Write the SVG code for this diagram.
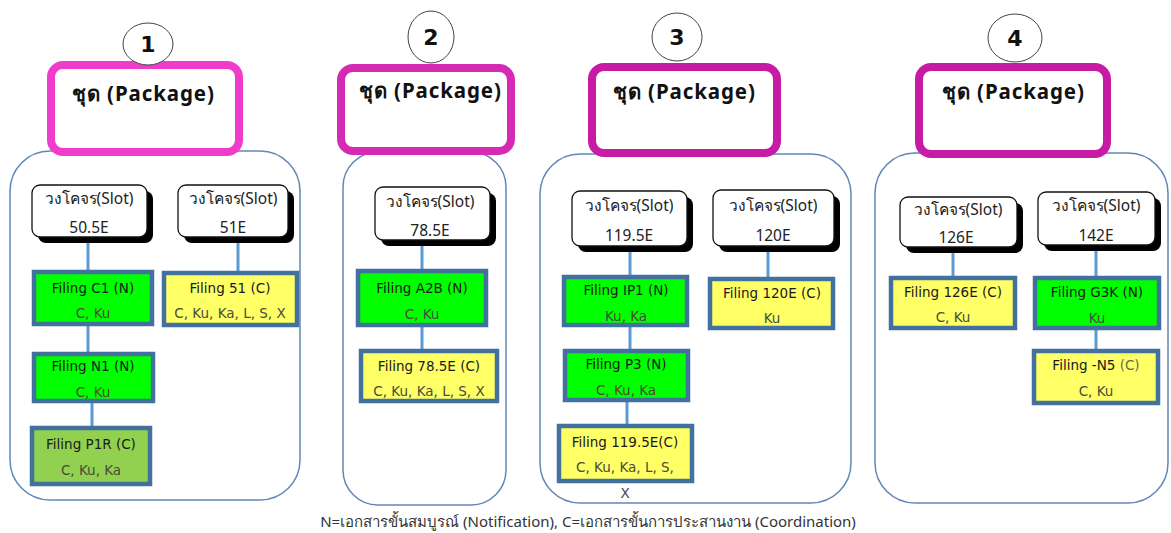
<svg xmlns="http://www.w3.org/2000/svg" width="1171" height="533" viewBox="0 0 1171 533">
<style>
.cont{fill:#fff;stroke:#5f88b8;stroke-width:1.5}
.pkg{fill:#fff;stroke-width:8}
.pkgt{font-family:"Noto Sans","DejaVu Sans",sans-serif;font-weight:bold;font-size:20.5px;letter-spacing:0.9px;fill:#111}
.num{fill:#fff;stroke:#444;stroke-width:1}
.numt{font-family:"DejaVu Sans","Liberation Sans",sans-serif;font-weight:bold;font-size:22px;fill:#111;text-anchor:middle}
.slot{fill:#fff;stroke:#111;stroke-width:1.3}
.shadow{fill:#000}
.slt{font-family:"Noto Sans","DejaVu Sans",sans-serif;font-size:15.5px;fill:#222;text-anchor:middle}
.fil{stroke:#41719c;stroke-width:4.5}
.g{fill:#00ff00}.lg{fill:#92d050}.y{fill:#ffff66}
.f1{font-family:"DejaVu Sans","Liberation Sans",sans-serif;font-size:13.5px;fill:#1a1a1a;text-anchor:middle}
.f2{font-family:"DejaVu Sans","Liberation Sans",sans-serif;font-size:13.5px;fill:#4a4a3a;text-anchor:middle}
.con{stroke:#5b9bd5;stroke-width:3;fill:none}
.leg{font-family:"Noto Sans","DejaVu Sans",sans-serif;font-size:15px;fill:#333;text-anchor:middle}
</style>

<g id="containers">
<rect class="cont" x="10" y="151" width="290" height="349" rx="40"/>
<rect class="cont" x="343" y="152" width="163" height="353" rx="35"/>
<rect class="cont" x="540" y="154" width="311" height="349" rx="40"/>
<rect class="cont" x="875" y="153" width="293" height="350" rx="40"/>
</g>

<g id="connectors">
<line class="con" x1="88" y1="237" x2="88" y2="270"/>
<line class="con" x1="88" y1="326" x2="88" y2="352"/>
<line class="con" x1="92" y1="403" x2="92" y2="426"/>
<line class="con" x1="238" y1="237" x2="238" y2="271"/>
<line class="con" x1="422" y1="240" x2="422" y2="269"/>
<line class="con" x1="422" y1="327" x2="422" y2="349"/>
<line class="con" x1="630" y1="246" x2="630" y2="275"/>
<line class="con" x1="630" y1="327" x2="630" y2="349"/>
<line class="con" x1="627" y1="402" x2="627" y2="424"/>
<line class="con" x1="768" y1="246" x2="768" y2="277"/>
<line class="con" x1="953" y1="247" x2="953" y2="276"/>
<line class="con" x1="1096" y1="245" x2="1096" y2="276"/>
<line class="con" x1="1096" y1="330" x2="1096" y2="349"/>
</g>

<g id="pkg1">
<rect class="pkg" x="51" y="65" width="188" height="87" rx="12" stroke="#ef3ccb"/>
<text class="pkgt" x="72" y="101">ชุด (Package)</text>
</g>
<g id="pkg2">
<rect class="pkg" x="341" y="68" width="170" height="83" rx="12" stroke="#d42ab4"/>
<text class="pkgt" x="359" y="98">ชุด (Package)</text>
</g>
<g id="pkg3">
<rect class="pkg" x="592" y="67" width="185" height="86" rx="12" stroke="#c71ba5"/>
<text class="pkgt" x="613" y="99">ชุด (Package)</text>
</g>
<g id="pkg4">
<rect class="pkg" x="919" y="67" width="188" height="87" rx="12" stroke="#c71ba5"/>
<text class="pkgt" x="942" y="99">ชุด (Package)</text>
</g>

<g id="num1"><ellipse class="num" cx="148" cy="44" rx="25" ry="21"/><text class="numt" x="148" y="52">1</text></g>
<g id="num2"><ellipse class="num" cx="431" cy="37" rx="23" ry="26"/><text class="numt" x="431" y="45">2</text></g>
<g id="num3"><ellipse class="num" cx="677" cy="37" rx="25" ry="24"/><text class="numt" x="677" y="45">3</text></g>
<g id="num4"><ellipse class="num" cx="1015" cy="38" rx="27" ry="24"/><text class="numt" x="1015" y="46">4</text></g>

<g id="slot1a"><rect class="shadow" x="38" y="191" width="115" height="52" rx="8"/><rect class="slot" x="32" y="185" width="115" height="52" rx="8"/><text class="slt" x="89" y="204">วงโคจร(Slot)</text><text class="slt" x="89" y="233">50.5E</text></g>
<g id="slot1b"><rect class="shadow" x="184" y="191" width="110" height="52" rx="8"/><rect class="slot" x="178" y="185" width="110" height="52" rx="8"/><text class="slt" x="233" y="204">วงโคจร(Slot)</text><text class="slt" x="233" y="233">51E</text></g>
<g id="slot2"><rect class="shadow" x="381" y="193" width="115" height="53" rx="8"/><rect class="slot" x="375" y="187" width="115" height="53" rx="8"/><text class="slt" x="430" y="207">วงโคจร(Slot)</text><text class="slt" x="430" y="236">78.5E</text></g>
<g id="slot3a"><rect class="shadow" x="578" y="197" width="115" height="55" rx="8"/><rect class="slot" x="572" y="191" width="115" height="55" rx="8"/><text class="slt" x="629" y="211">วงโคจร(Slot)</text><text class="slt" x="629" y="241">119.5E</text></g>
<g id="slot3b"><rect class="shadow" x="719" y="196" width="121" height="56" rx="8"/><rect class="slot" x="713" y="190" width="121" height="56" rx="8"/><text class="slt" x="773" y="211">วงโคจร(Slot)</text><text class="slt" x="773" y="241">120E</text></g>
<g id="slot4a"><rect class="shadow" x="906" y="203" width="117" height="50" rx="8"/><rect class="slot" x="900" y="197" width="117" height="50" rx="8"/><text class="slt" x="958" y="215">วงโคจร(Slot)</text><text class="slt" x="956" y="243">126E</text></g>
<g id="slot4b"><rect class="shadow" x="1044" y="198" width="117" height="53" rx="8"/><rect class="slot" x="1038" y="192" width="117" height="53" rx="8"/><text class="slt" x="1096" y="211">วงโคจร(Slot)</text><text class="slt" x="1096" y="241">142E</text></g>

<g id="fC1"><rect class="fil g" x="34" y="272" width="118" height="52"/><text class="f1" x="93" y="293">Filing C1 (N)</text><text class="f2" x="93" y="318">C, Ku</text></g>
<g id="f51"><rect class="fil y" x="164" y="273" width="133" height="52"/><text class="f1" x="230" y="293">Filing 51 (C)</text><text class="f2" x="230" y="318">C, Ku, Ka, L, S, X</text></g>
<g id="fN1"><rect class="fil g" x="34" y="354" width="119" height="47"/><text class="f1" x="93" y="371">Filing N1 (N)</text><text class="f2" x="93" y="397">C, Ku</text></g>
<g id="fP1R"><rect class="fil lg" x="32" y="428" width="118" height="56"/><text class="f1" x="91" y="449">Filing P1R (C)</text><text class="f2" x="91" y="475">C, Ku, Ka</text></g>

<g id="fA2B"><rect class="fil g" x="358" y="271" width="128" height="54"/><text class="f1" x="422" y="293">Filing A2B (N)</text><text class="f2" x="422" y="319">C, Ku</text></g>
<g id="f785"><rect class="fil y" x="361" y="351" width="136" height="50"/><text class="f1" x="429" y="371">Filing 78.5E (C)</text><text class="f2" x="429" y="396">C, Ku, Ka, L, S, X</text></g>

<g id="fIP1"><rect class="fil g" x="564" y="277" width="123" height="48"/><text class="f1" x="626" y="295">Filing IP1 (N)</text><text class="f2" x="626" y="321">Ku, Ka</text></g>
<g id="f120"><rect class="fil y" x="710" y="279" width="123" height="49"/><text class="f1" x="772" y="298">Filing 120E (C)</text><text class="f2" x="772" y="323">Ku</text></g>
<g id="fP3"><rect class="fil g" x="565" y="351" width="123" height="49"/><text class="f1" x="626" y="369">Filing P3 (N)</text><text class="f2" x="626" y="395">C, Ku, Ka</text></g>
<g id="f1195"><rect class="fil y" x="559" y="426" width="133" height="55"/><text class="f1" x="625" y="447">Filing 119.5E(C)</text><text class="f2" x="625" y="472">C, Ku, Ka, L, S,</text></g>
<text class="f2" x="625" y="498">X</text>

<g id="f126"><rect class="fil y" x="891" y="278" width="124" height="50"/><text class="f1" x="953" y="297">Filing 126E (C)</text><text class="f2" x="953" y="322">C, Ku</text></g>
<g id="fG3K"><rect class="fil g" x="1035" y="278" width="124" height="50"/><text class="f1" x="1097" y="297">Filing G3K (N)</text><text class="f2" x="1097" y="323">Ku</text></g>
<g id="fN5"><rect class="fil y" x="1034" y="351" width="124" height="52"/><text class="f1" x="1096" y="370">Filing -N5 <tspan fill="#6a6a50">(C)</tspan></text><text class="f2" x="1096" y="396">C, Ku</text></g>

<text class="leg" x="588" y="527">N=เอกสารขั้นสมบูรณ์ (Notification), C=เอกสารขั้นการประสานงาน (Coordination)</text>
</svg>
